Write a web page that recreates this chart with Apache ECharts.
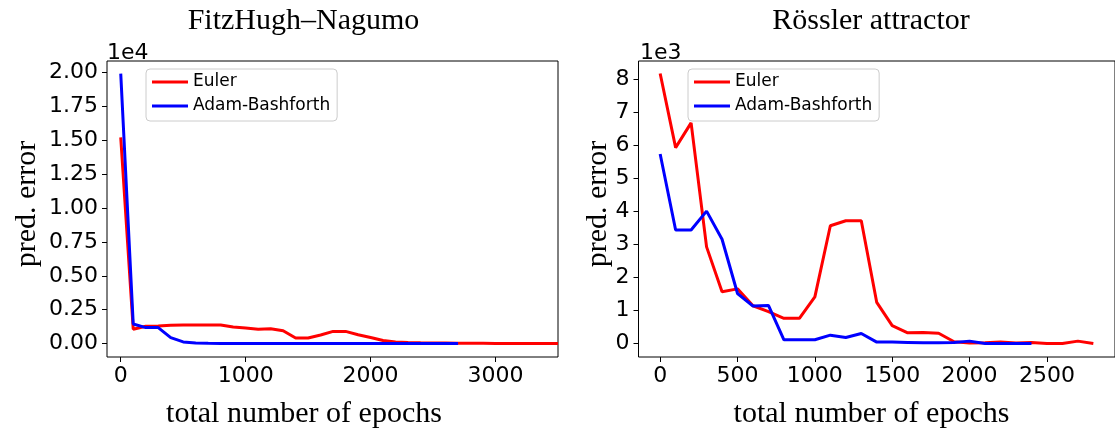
<!DOCTYPE html>
<html>
<head>
<meta charset="utf-8">
<script src="https://cdn.jsdelivr.net/npm/echarts@6/dist/echarts.min.js"></script>
<style>
html,body{margin:0;padding:0;background:#fff;}
#chart{width:1115px;height:429px;}
</style>
</head>
<body>
<div id="chart"></div>
<script>
// ---- Data ----
const fhnEpochsEuler = [0,100,200,300,400,500,600,700,800,900,1000,1100,1200,1300,1400,1500,1600,1700,1800,1900,2000,2100,2200,2300,2400,2500,2600,2700,2800,2900,3000,3100,3200,3300,3400,3500];
const fhnEuler = [15200,1060,1280,1300,1350,1370,1370,1370,1370,1220,1150,1060,1100,950,410,410,640,900,900,660,450,230,125,90,70,55,45,35,25,20,15,12,10,10,8,5];
const fhnEpochsAB = [0,100,200,300,400,500,600,700,800,900,1000,1100,1200,1300,1400,1500,1600,1700,1800,1900,2000,2100,2200,2300,2400,2500,2600,2700];
const fhnAB = [19900,1450,1180,1180,440,125,50,30,15,10,8,8,6,6,5,5,5,5,5,5,5,5,5,5,5,5,5,5];

const rosEpochsEuler = [0,100,200,300,400,500,600,700,800,900,1000,1100,1200,1300,1400,1500,1600,1700,1800,1900,2000,2100,2200,2300,2400,2500,2600,2700,2800];
const rosEuler = [8160,5920,6670,2920,1560,1650,1140,960,760,760,1410,3560,3710,3710,1240,540,320,330,310,50,10,20,40,10,30,0,0,70,0];
const rosEpochsAB = [0,100,200,300,400,500,600,700,800,900,1000,1100,1200,1300,1400,1500,1600,1700,1800,1900,2000,2100,2200,2300,2400];
const rosAB = [5730,3430,3430,4000,3150,1510,1130,1150,110,110,110,250,180,300,40,40,30,20,20,30,70,0,0,0,0];

const fhnXTicks = [0,1000,2000,3000];
const fhnYTicks = [0,2500,5000,7500,10000,12500,15000,17500,20000];
const rosXTicks = [0,500,1000,1500,2000,2500];
const rosYTicks = [0,1000,2000,3000,4000,5000,6000,7000,8000];

const seriesNames = ['Euler','Adam-Bashforth'];
const titles = ['FitzHugh\u2013Nagumo','R\u00f6ssler attractor'];
const xName = 'total number of epochs';
const yName = 'pred. error';

function pairs(xs, ys){ return xs.map((x,i)=>[x, ys[i]]); }

const SANS = 'DejaVu Sans';

function xAxis(gi, min, max, ticks){
  return {
    type:'value', gridIndex:gi, min:min, max:max, position:'bottom',
    axisLine:{show:false, onZero:false},
    splitLine:{show:false},
    axisTick:{show:true, inside:false, length:5, lineStyle:{color:'#000', width:1}, customValues:ticks},
    axisLabel:{color:'#000', fontFamily:SANS, fontSize:22, margin:8, customValues:ticks, formatter:v => String(v)}
  };
}
function yAxis(gi, min, max, ticks, fmt){
  return {
    type:'value', gridIndex:gi, min:min, max:max, position:'left',
    axisLine:{show:false, onZero:false},
    splitLine:{show:false},
    axisTick:{show:true, inside:false, length:5, lineStyle:{color:'#000', width:1}, customValues:ticks},
    axisLabel:{color:'#000', fontFamily:SANS, fontSize:22, margin:9, customValues:ticks, formatter:fmt}
  };
}
function legend(left){
  return {
    orient:'vertical', left:left, top:69,
    data:seriesNames,
    icon:'rect',
    itemWidth:36, itemHeight:3, itemGap:4,
    padding:[3,7,5,6],
    backgroundColor:'rgba(255,255,255,0.8)',
    borderColor:'#cccccc', borderWidth:1, borderRadius:4,
    textStyle:{fontFamily:SANS, fontSize:17, color:'#000', lineHeight:20},
    selectedMode:false
  };
}
function line(name, data, gi, color){
  return {
    name:name, type:'line', xAxisIndex:gi, yAxisIndex:gi, data:data,
    symbol:'none', showSymbol:false,
    lineStyle:{color:color, width:3},
    itemStyle:{color:color},
    emphasis:{disabled:true},
    z:3
  };
}
function text(x, y, str, opts){
  return {
    type:'text', x:x, y:y,
    style:Object.assign({text:str, fill:'#000', align:'center', verticalAlign:'middle'}, opts||{})
  };
}

const chart = echarts.init(document.getElementById('chart'), null, {renderer:'canvas'});
chart.setOption({
  animation:false,
  backgroundColor:'#fff',
  grid:[
    {left:107, top:61, width:451, height:296, show:true, borderColor:'#000', borderWidth:1, backgroundColor:'transparent'},
    {left:638.5, top:61, width:487, height:296, show:true, borderColor:'#000', borderWidth:1, backgroundColor:'transparent'}
  ],
  xAxis:[
    xAxis(0, -110, 3500, fhnXTicks),
    xAxis(1, -140, 2940, rosXTicks)
  ],
  yAxis:[
    yAxis(0, -985, 20830, fhnYTicks, v => (v/1e4).toFixed(2)),
    yAxis(1, -410, 8540, rosYTicks, v => String(v/1000))
  ],
  legend:[legend(146), legend(688)],
  series:[
    line(seriesNames[0], pairs(fhnEpochsEuler, fhnEuler), 0, '#ff0000'),
    line(seriesNames[1], pairs(fhnEpochsAB, fhnAB), 0, '#0000ff'),
    line(seriesNames[0], pairs(rosEpochsEuler, rosEuler), 1, '#ff0000'),
    line(seriesNames[1], pairs(rosEpochsAB, rosAB), 1, '#0000ff')
  ],
  graphic:[
    text(303.5, 21, titles[0], {font:'30px "Liberation Serif"'}),
    text(871, 21, titles[1], {font:'30px "Liberation Serif"'}),
    text(304, 414, xName, {font:'30px "Liberation Serif"'}),
    text(871.5, 414, xName, {font:'30px "Liberation Serif"'}),
    {type:'text', x:27, y:204, rotation:Math.PI/2,
      style:{text:yName, fill:'#000', align:'center', verticalAlign:'middle', font:'30px "Liberation Serif"'}},
    {type:'text', x:598, y:204, rotation:Math.PI/2,
      style:{text:yName, fill:'#000', align:'center', verticalAlign:'middle', font:'30px "Liberation Serif"'}},
    text(107, 53, '1e4', {font:'22px "DejaVu Sans"', align:'left'}),
    text(640, 53, '1e3', {font:'22px "DejaVu Sans"', align:'left'})
  ]
});
</script>
</body>
</html>
